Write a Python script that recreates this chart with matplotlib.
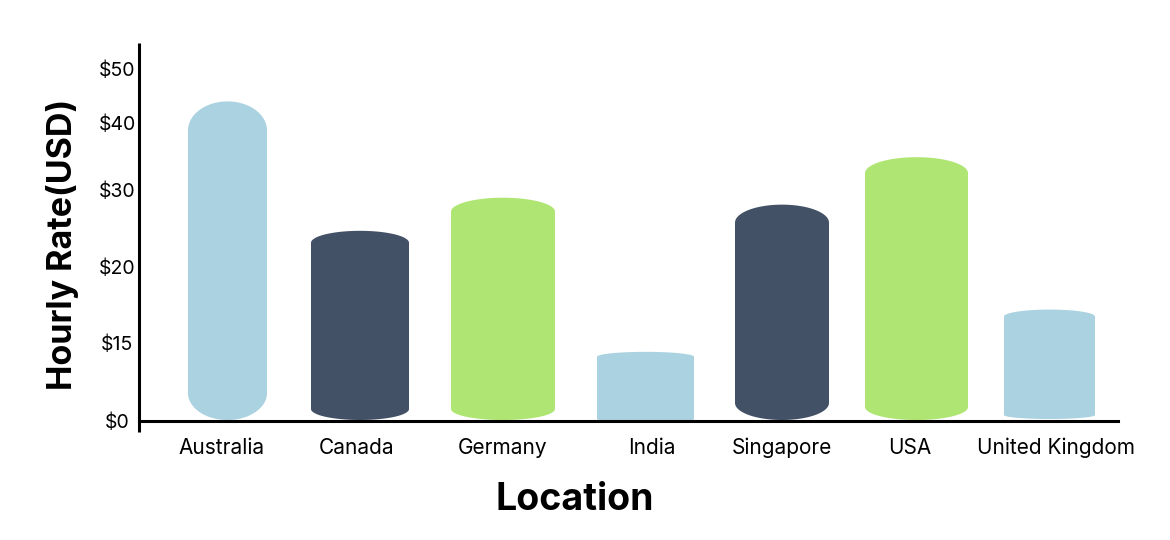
import matplotlib

matplotlib.use("Agg")

import matplotlib.pyplot as plt
from matplotlib.patches import Polygon
import numpy as np

# data
locations = ["Australia", "Canada", "Germany", "India", "Singapore", "USA", "United Kingdom"]
hourly_rate = [44.0, 24.7, 29.0, 13.3, 28.1, 34.9, 17.2]
tick_values = [0, 15, 20, 30, 40, 50]
tick_labels = ["$0", "$15", "$20", "$30", "$40", "$50"]

# the y axis of the original is not linear: tick value -> height above the baseline (px)
scale_values = [0, 15, 20, 30, 40, 50, 55]
scale_heights = [0, 78, 154, 231, 298, 352, 379]

# bar styling (pixels): width, top cap depth, bottom cap depth, bottom offset, x nudge
bar_colors = ["#aad2e0", "#435166", "#afe673", "#aad2e0", "#435166", "#afe673", "#aad2e0"]
bar_widths = [79, 98, 104, 97, 94, 103, 91]
top_caps = [29, 12, 14, 5, 18, 16, 7]
bottom_caps = [27, 11, 11, 4, 17, 13, 4]
bottom_offsets = [1, 1, 1, -2, 1, 1, 2]
bar_nudge = [0, -4.5, 1.5, 7, 6.5, 4, 0]
label_nudge = [-6, -7.5, 1.5, 13, 6.5, -3, 6.5]

plt.rcParams["font.family"] = ["Inter", "DejaVu Sans"]


def forward(v):
    return np.interp(v, scale_values, scale_heights)


def inverse(h):
    return np.interp(h, scale_heights, scale_values)


W, H = 1170, 540
fig = plt.figure(figsize=(W / 100, H / 100), dpi=100)
ax = fig.add_axes([139 / W, (H - 421) / H, (1118 - 139) / W, (421 - 43) / H])
ax.set_yscale("function", functions=(forward, inverse))
ax.set_xlim(-0.646, 6.5)
ax.set_ylim(0, inverse(378))

px_per_x = (1118 - 139) / (6.5 + 0.646)
to_scaled = ax.yaxis.get_transform()
tops = to_scaled.transform(np.asarray(hourly_rate, dtype=float))
shape_trans = ax.transLimits + ax.transAxes  # linear x, scaled y (~1 unit per px)

t_top = np.linspace(0, np.pi, 60)
t_bot = np.linspace(np.pi, 2 * np.pi, 60)
for i, top in enumerate(tops):
    cx = i + bar_nudge[i] / px_per_x
    hw = bar_widths[i] / 2 / px_per_x
    rt, rb = top_caps[i], bottom_caps[i]
    base = bottom_offsets[i]
    xs = np.concatenate([cx + hw * np.cos(t_top), cx + hw * np.cos(t_bot)])
    ys = np.concatenate([top - rt + rt * np.sin(t_top), base + rb + rb * np.sin(t_bot)])
    ax.add_patch(Polygon(np.column_stack([xs, ys]), closed=True,
                         facecolor=bar_colors[i], edgecolor="none",
                         transform=shape_trans, clip_on=False))

for side in ["top", "right", "left"]:
    ax.spines[side].set_visible(False)
ax.spines["bottom"].set_linewidth(2.2)
ax.spines["bottom"].set_color("black")
ax.plot([0, 0], [-0.03, 1.0], color="black", lw=2.2, transform=ax.transAxes,
        clip_on=False, solid_capstyle="butt")

ax.set_yticks(tick_values, labels=tick_labels)
label_pos = [i + label_nudge[i] / px_per_x for i in range(len(locations))]
ax.set_xticks(label_pos, labels=locations)
ax.tick_params(axis="y", length=0, pad=15.8, labelsize=14)
ax.tick_params(axis="x", length=0, pad=23.5, labelsize=15)
for lab in ax.get_yticklabels():
    lab.set_ha("center")
for lab in ax.get_xticklabels():
    lab.set_va("baseline")

fig.text(575 / W, 1 - 500 / H, "Location", ha="center", va="center",
         fontsize=27, fontweight="bold")
fig.text(63 / W, 1 - 244 / H, "Hourly Rate(USD)", ha="center", va="center",
         rotation=90, fontsize=24.5, fontweight="bold")

fig.savefig("out.png", dpi=100, facecolor="white")
